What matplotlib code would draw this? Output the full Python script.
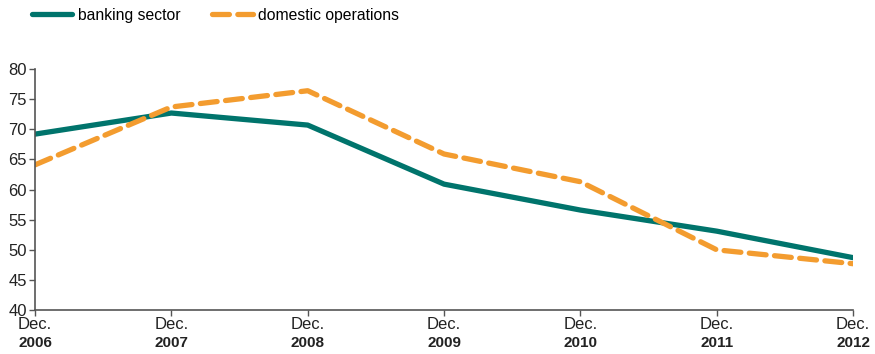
import numpy as np
import matplotlib.pyplot as plt

years = ["2006", "2007", "2008", "2009", "2010", "2011", "2012"]
banking = [69.2, 72.7, 70.7, 60.9, 56.6, 53.1, 48.7]
domestic = [64.1, 73.7, 76.4, 65.9, 61.3, 50.0, 47.7]

plt.rcParams['font.family'] = ['Liberation Sans', 'DejaVu Sans']

fig = plt.figure(figsize=(8.75, 3.54), dpi=100)
ax = fig.add_axes([0.04, 0.124, 0.935, 0.681])

x = np.arange(len(years))
ax.plot(x, banking, color="#00746c", lw=3.8, solid_capstyle="round",
        label="banking sector")
ax.plot(x, domestic, color="#f39c2f", lw=3.8, dashes=(3.2, 1.6),
        dash_capstyle="round", label="domestic operations")

ax.set_xlim(0, len(years) - 1)
ax.set_ylim(40, 80)
ax.set_yticks(range(40, 81, 5))
ax.set_xticks(x)
ax.set_xticklabels(["Dec."] * len(years))

# bold year line under each "Dec." label
for i, yr in enumerate(years):
    ax.annotate(yr, xy=(i, 0), xycoords=ax.get_xaxis_transform(),
                xytext=(0, -19), textcoords="offset points", ha="center",
                va="top", fontsize=11, fontweight="bold", color="#222222")

for side in ["top", "right"]:
    ax.spines[side].set_visible(False)
for side in ["left", "bottom"]:
    ax.spines[side].set_color("#555555")
    ax.spines[side].set_linewidth(1.2)
ax.tick_params(colors="#555555", length=4, width=1)
ax.tick_params(labelcolor="#222222", labelsize=12)
ax.tick_params(axis="x", pad=1)
ax.tick_params(axis="y", pad=2)

fig.legend(loc="upper left", bbox_to_anchor=(0.02, 1.018), ncol=2, frameon=False,
           fontsize=11.3, handlelength=2.6, columnspacing=2.0, handletextpad=0.35)

fig.savefig("out.png", dpi=100)
